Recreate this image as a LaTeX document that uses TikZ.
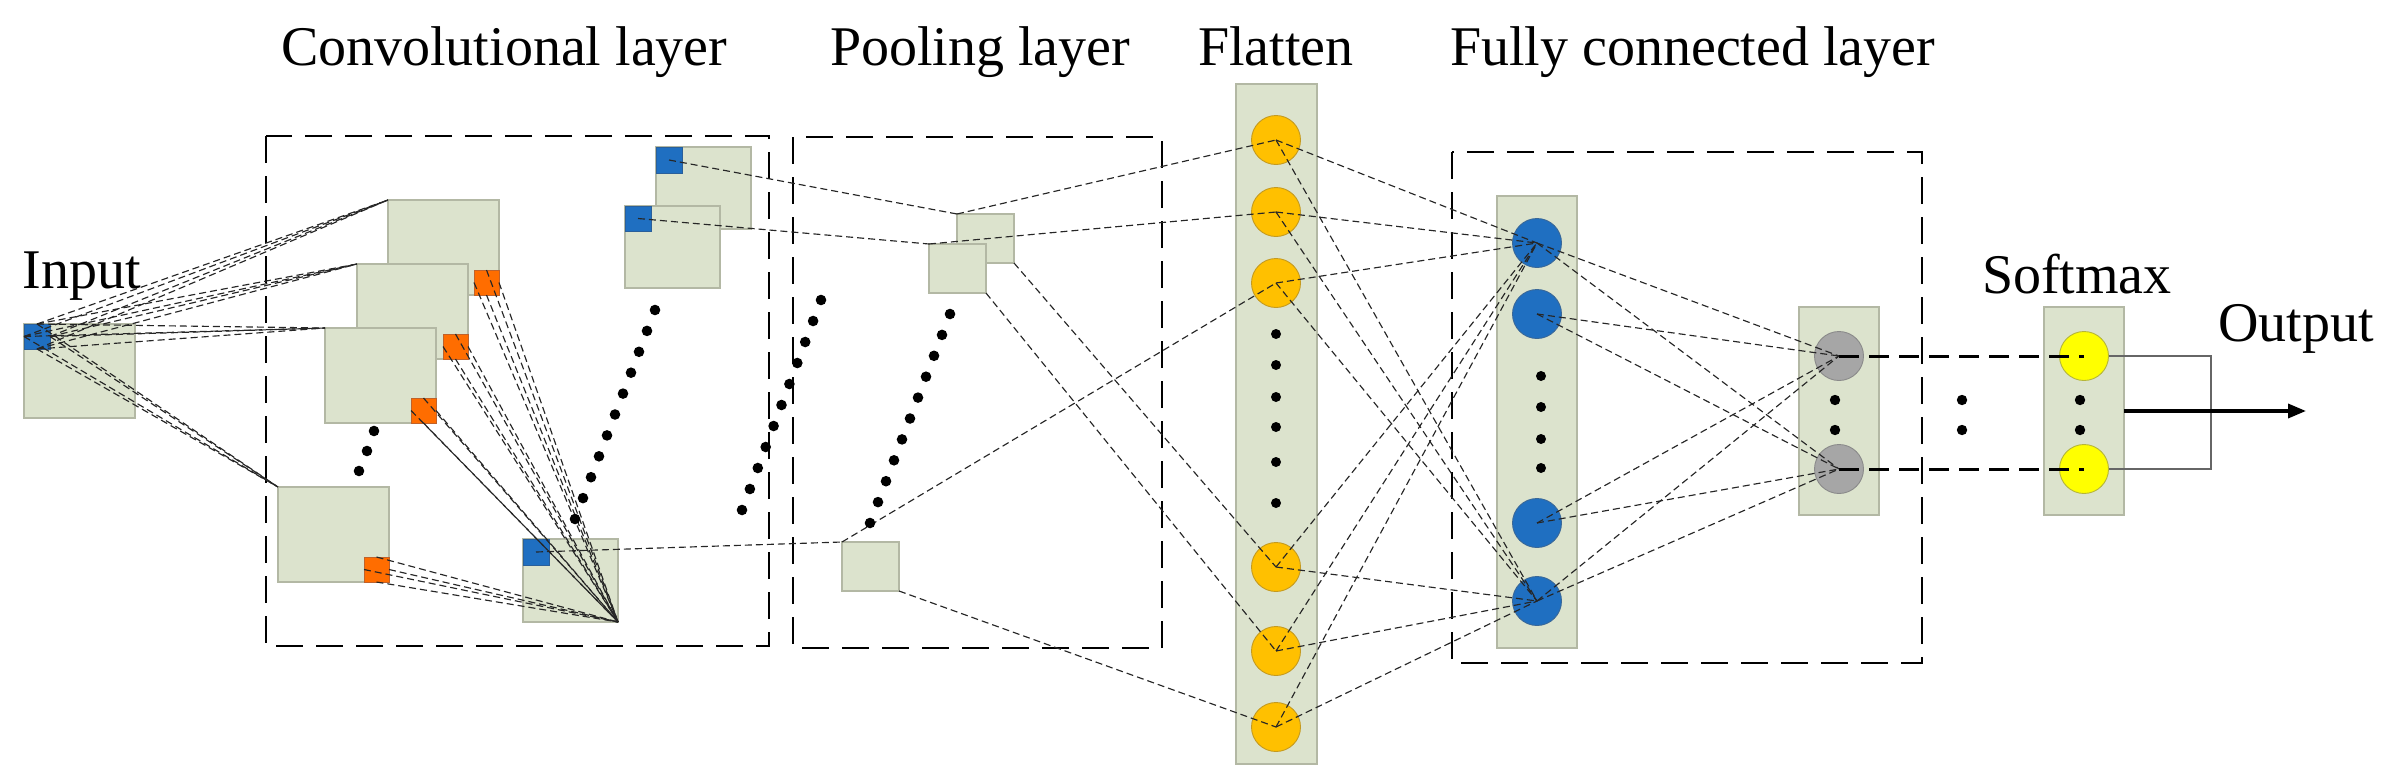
\documentclass[tikz,border=0pt]{standalone}
\usepackage{fontspec}
\setmainfont{Liberation Serif}
\usetikzlibrary{arrows.meta}
\definecolor{pale}{HTML}{DCE3CD}
\definecolor{paleedge}{HTML}{B3B8A4}
\definecolor{sqblue}{HTML}{1F6FC1}
\definecolor{sqblueedge}{HTML}{2A5F9A}
\definecolor{sqorange}{HTML}{FF6D00}
\definecolor{sqorangeedge}{HTML}{C0622A}
\definecolor{gold}{HTML}{FFC000}
\definecolor{goldedge}{HTML}{C49A20}
\definecolor{cblue}{HTML}{1F6FC1}
\definecolor{cblueedge}{HTML}{3A6898}
\definecolor{cgray}{HTML}{A6A6A6}
\definecolor{cgrayedge}{HTML}{8A8A8A}
\definecolor{cyellow}{HTML}{FFFF00}
\definecolor{cyellowedge}{HTML}{B5B53A}
\begin{document}
\begin{tikzpicture}[x=1pt,y=-1pt,
  lbl/.style={font=\fontsize{56pt}{60pt}\selectfont, inner sep=0pt, outer sep=0pt, anchor=base west},
  fmap/.style={draw=paleedge, fill=pale, line width=1.4pt, inner sep=0pt, outer sep=0pt, anchor=north west, minimum width=111pt, minimum height=95pt},
  smap/.style={fmap, minimum width=95pt, minimum height=82pt},
  pmap/.style={fmap, minimum width=57pt, minimum height=49pt},
  bsq/.style={draw=sqblueedge, fill=sqblue, line width=0.8pt, inner sep=0pt, outer sep=0pt, minimum width=26pt, minimum height=25pt, anchor=north west},
  osq/.style={draw=sqorangeedge, fill=sqorange, line width=0.8pt, inner sep=0pt, outer sep=0pt, minimum width=25pt, minimum height=25pt, anchor=south east},
  column/.style={draw=paleedge, fill=pale, line width=1.4pt, inner sep=0pt, outer sep=0pt, anchor=north west},
  neuron/.style={circle, inner sep=0pt, outer sep=0pt, minimum size=49pt, line width=0.9pt},
  fneuron/.style={neuron, draw=goldedge, fill=gold},
  bneuron/.style={neuron, draw=cblueedge, fill=cblue},
  gneuron/.style={neuron, draw=cgrayedge, fill=cgray},
  yneuron/.style={neuron, draw=cyellowedge, fill=cyellow},
  conn/.style={draw=black!85, line width=1.15pt, dash pattern=on 7pt off 4pt},
  groupbox/.style={draw=black, line width=2.2pt, dash pattern=on 27pt off 13pt},
  thickdash/.style={draw=black, line width=3pt, dash pattern=on 20pt off 10pt}
]
\useasboundingbox (0,0) rectangle (2385,782);

% titles
\node[lbl] (tinput) at (23,288) {Input};
\node[lbl] (tconv) at (281,65) {Convolutional layer};
\node[lbl] (tpool) at (830,65) {Pooling layer};
\node[lbl] (tflat) at (1198,65) {Flatten};
\node[lbl] (tfc) at (1450,65) {Fully connected layer};
\node[lbl] (tsoft) at (1982,293) {Softmax};
\node[lbl] (tout) at (2218,341) {Output};

% group boxes
\draw[groupbox] (266,136) rectangle (769,646);
\draw[groupbox] (793,137) rectangle (1162,648);
\draw[groupbox] (1452,152) rectangle (1922,663);

% input
\node[fmap, minimum height=94pt] (inp) at (24,324) {};
\node[bsq] (bin) at (inp.north west) {};

% conv feature maps
\node[fmap] (m1) at (388,200) {};
\node[osq] (o1) at (m1.south east) {};
\node[fmap] (m2) at (357,264) {};
\node[osq] (o2) at (m2.south east) {};
\node[fmap] (m3) at (325,328) {};
\node[osq] (o3) at (m3.south east) {};
\node[fmap] (m4) at (278,487) {};
\node[osq] (o4) at (m4.south east) {};

% conv output maps
\node[smap] (mA) at (656,147) {};
\node[bsq, minimum height=26pt] (bA) at (mA.north west) {};
\node[smap] (mB) at (625,206) {};
\node[bsq] (bB) at (mB.north west) {};
\node[smap, minimum height=83pt] (mout) at (523,539) {};
\node[bsq, minimum height=26pt] (bout) at (mout.north west) {};

% pooling maps
\node[pmap] (pA) at (957,214) {};
\node[pmap] (pB) at (929,244) {};
\node[pmap] (pC) at (842,542) {};

% columns
\node[column, minimum width=81pt, minimum height=680pt] (fcol) at (1236,84) {};
\node[column, minimum width=80pt, minimum height=452pt] (bcol) at (1497,196) {};
\node[column, minimum width=80pt, minimum height=208pt] (gcol) at (1799,307) {};
\node[column, minimum width=80pt, minimum height=208pt] (scol) at (2044,307) {};

% neurons
\node[fneuron] (F1) at (1276,140) {};
\node[fneuron] (F2) at (1276,212) {};
\node[fneuron] (F3) at (1276,283) {};
\node[fneuron] (F4) at (1276,567) {};
\node[fneuron] (F5) at (1276,651) {};
\node[fneuron] (F6) at (1276,727) {};
\node[bneuron] (B1) at (1537,243) {};
\node[bneuron] (B2) at (1537,314) {};
\node[bneuron] (B3) at (1537,523) {};
\node[bneuron] (B4) at (1537,601) {};
\node[gneuron] (G1) at (1839,356) {};
\node[gneuron] (G2) at (1839,469) {};
\node[yneuron] (Y1) at (2084,356) {};
\node[yneuron] (Y2) at (2084,469) {};

% input -> conv maps
\foreach \t in {m1,m2,m3,m4}
  \foreach \s in {north,west,south,east}
    \draw[conn] (bin.\s) -- (\t.north west);
% conv maps -> conv output
\foreach \o in {o1,o2,o3,o4}
  \foreach \s in {north,west,south,east}
    \draw[conn] (\o.\s) -- (mout.south east);
% conv -> pooling
\draw[conn] (bA.center) -- (pA.north west);
\draw[conn] (bB.center) -- (pB.north west);
\draw[conn] (bout.center) -- (pC.north west);
% pooling -> flatten
\draw[conn] (pA.north west) -- (F1.center);
\draw[conn] (pB.north west) -- (F2.center);
\draw[conn] (pC.north west) -- (F3.center);
\draw[conn] (pA.south east) -- (F4.center);
\draw[conn] (pB.south east) -- (F5.center);
\draw[conn] (pC.south east) -- (F6.center);
% flatten -> fc
\foreach \f in {F1,F2,F3,F4,F5,F6}
  \foreach \b in {B1,B4}
    \draw[conn] (\f.center) -- (\b.center);
% fc -> gray
\foreach \b in {B1,B2,B3,B4}
  \foreach \g in {G1,G2}
    \draw[conn] (\b.center) -- (\g.center);
% gray -> softmax
\draw[thickdash] (G1.center) -- (Y1.center);
\draw[thickdash] (G2.center) -- (Y2.center);
% output bracket and arrow
\coordinate (brk) at (2211,0);
\draw[draw=black!60, line width=1.4pt] (Y1.east) -- (Y1.east -| brk) -- (Y2.east -| brk) -- (Y2.east);
\coordinate (arrend) at (2306,411);
\draw[line width=3.5pt, -{Triangle[length=18pt,width=14pt]}] (scol.east) -- (arrend);

% ellipsis dots
\foreach \p in {(374,431),(367,451),(359,471)} \fill \p circle (5.3pt);
\foreach \i in {0,...,10} \fill (655-8*\i, 310+20.9*\i) circle (5.3pt);
\foreach \i in {0,...,10} \fill (821-7.9*\i, 300+21*\i) circle (5.3pt);
\foreach \i in {0,...,10} \fill (950-8*\i, 314+20.9*\i) circle (5.3pt);
\foreach \yy in {334,365,397,427,462,503} \fill (1276,\yy) circle (5pt);
\foreach \yy in {376,407,439,468} \fill (1541,\yy) circle (5pt);
\foreach \xx in {1835,1962,2080} {\fill (\xx,400) circle (5.2pt); \fill (\xx,430) circle (5.2pt);}
\end{tikzpicture}
\end{document}
